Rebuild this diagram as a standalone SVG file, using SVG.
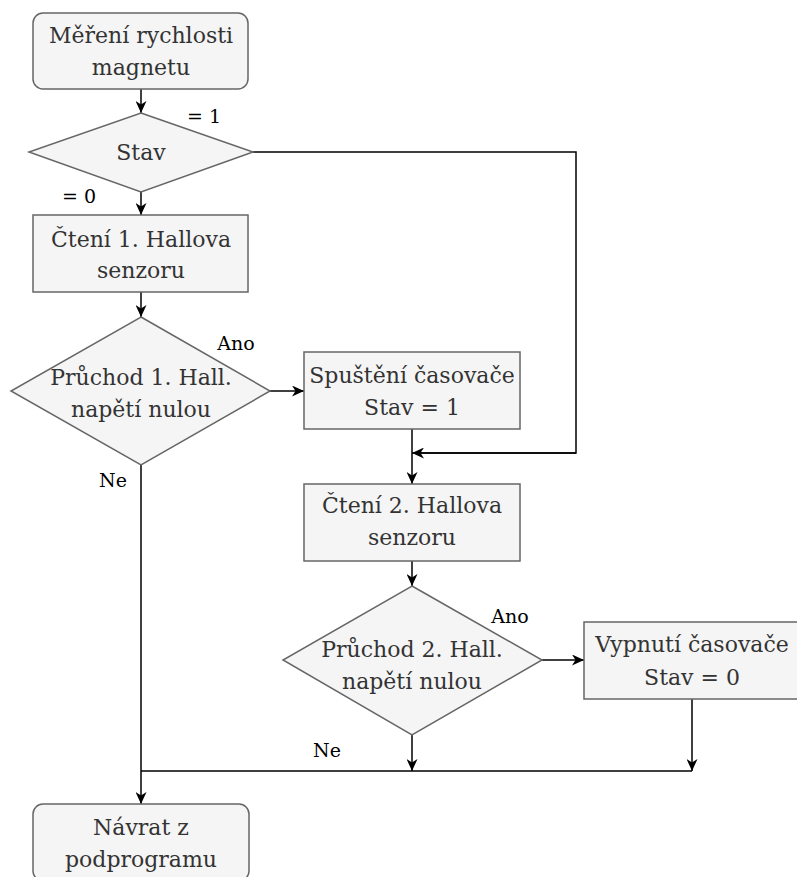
<svg xmlns="http://www.w3.org/2000/svg" width="797" height="877" viewBox="0 0 797 877">
<defs>
<marker id="arr" viewBox="0 0 12 11" refX="12" refY="5.5" markerWidth="12" markerHeight="11" markerUnits="userSpaceOnUse" orient="auto">
<path d="M0,0 L12,5.5 L0,11 L3.5,5.5 Z" fill="#000"/>
</marker>
<style>
.n{fill:#f5f5f5;stroke:#666666;stroke-width:1.5}
.t{font-family:'DejaVu Serif',serif;font-size:22px;fill:#333333;text-anchor:middle}
.l{font-family:'DejaVu Serif',serif;font-size:19px;fill:#000;text-anchor:middle}
.c{fill:none;stroke:#000;stroke-width:1.5}
.a{marker-end:url(#arr)}
</style>
</defs>
<rect width="797" height="877" fill="#fff"/>
<g id="connectors">
<path class="c a" d="M141,89 V113"/>
<path class="c a" d="M141,192 V215"/>
<path class="c" d="M253,152 H576 V453 H420"/>
<path class="c a" d="M576,453 H412"/>
<path class="c a" d="M141,292 V317"/>
<path class="c a" d="M270,391 H304"/>
<path class="c a" d="M412,429 V484"/>
<path class="c a" d="M141,465 V804"/>
<path class="c a" d="M412,561 V586"/>
<path class="c a" d="M542,660 H584"/>
<path class="c a" d="M412,735 V771"/>
<path class="c a" d="M692,699 V771"/>
<path class="c" d="M141,771 H692"/>
<text class="l" x="204" y="123">= 1</text>
<text class="l" x="79" y="203">= 0</text>
<text class="l" x="236" y="350">Ano</text>
<text class="l" x="113" y="487">Ne</text>
<text class="l" x="510" y="623">Ano</text>
<text class="l" x="327" y="757">Ne</text>
</g>
<g id="start">
<rect class="n" x="33" y="13" width="215" height="76" rx="10"/>
<text class="t" x="141" y="43">Měření rychlosti</text>
<text class="t" x="141" y="75">magnetu</text>
</g>
<g id="stav">
<path class="n" d="M141,113 L253,152 L141,192 L29,152 Z"/>
<text class="t" x="141" y="160">Stav</text>
</g>
<g id="cteni1">
<rect class="n" x="33" y="215" width="215" height="77"/>
<text class="t" x="141" y="247">Čtení 1. Hallova</text>
<text class="t" x="141" y="278">senzoru</text>
</g>
<g id="pruchod1">
<path class="n" d="M141,317 L270,391 L141,465 L11,391 Z"/>
<text class="t" x="141" y="385">Průchod 1. Hall.</text>
<text class="t" x="141" y="417">napětí nulou</text>
</g>
<g id="spusteni">
<rect class="n" x="304" y="352" width="216" height="77"/>
<text class="t" x="412" y="383">Spuštění časovače</text>
<text class="t" x="412" y="415">Stav = 1</text>
</g>
<g id="cteni2">
<rect class="n" x="304" y="484" width="216" height="77"/>
<text class="t" x="412" y="513">Čtení 2. Hallova</text>
<text class="t" x="412" y="545">senzoru</text>
</g>
<g id="pruchod2">
<path class="n" d="M412,586 L542,660 L412,735 L283,660 Z"/>
<text class="t" x="412" y="657">Průchod 2. Hall.</text>
<text class="t" x="412" y="689">napětí nulou</text>
</g>
<g id="vypnuti">
<rect class="n" x="584" y="622" width="216" height="77"/>
<text class="t" x="692" y="652">Vypnutí časovače</text>
<text class="t" x="692" y="685">Stav = 0</text>
</g>
<g id="navrat">
<rect class="n" x="33" y="804" width="216" height="77" rx="10"/>
<text class="t" x="141" y="835">Návrat z</text>
<text class="t" x="141" y="867">podprogramu</text>
</g>
</svg>
